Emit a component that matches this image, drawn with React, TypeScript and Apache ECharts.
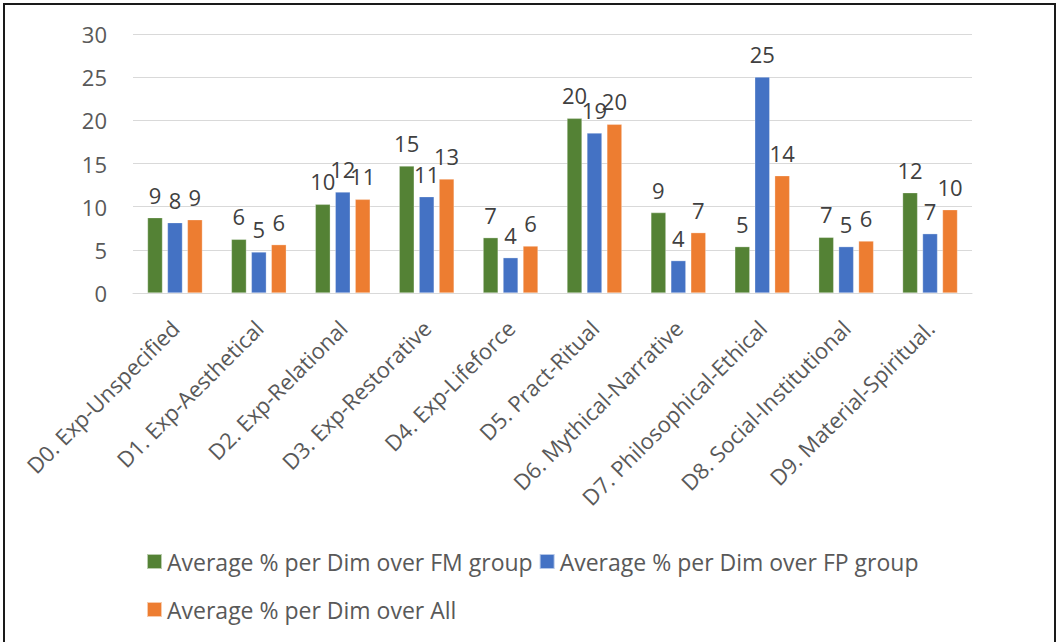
import React, { useEffect, useRef } from "react";
import * as echarts from "echarts";

const categories = [
  "D0. Exp-Unspecified",
  "D1. Exp-Aesthetical",
  "D2. Exp-Relational",
  "D3. Exp-Restorative",
  "D4. Exp-Lifeforce",
  "D5. Pract-Ritual",
  "D6. Mythical-Narrative",
  "D7. Philosophical-Ethical",
  "D8. Social-Institutional",
  "D9. Material-Spiritual.",
];

const fmValues = [8.73, 6.22, 10.27, 14.71, 6.41, 20.23, 9.31, 5.37, 6.45, 11.62];
const fpValues = [8.15, 4.75, 11.7, 11.16, 4.09, 18.53, 3.75, 25.02, 5.37, 6.87];
const allValues = [8.49, 5.6, 10.85, 13.2, 5.44, 19.54, 6.99, 13.59, 6.02, 9.65];
const fmLabels = [9, 6, 10, 15, 7, 20, 9, 5, 7, 12];
const fpLabels = [8, 5, 12, 11, 4, 19, 4, 25, 5, 7];
const allLabels = [9, 6, 11, 13, 6, 20, 7, 14, 6, 10];

const seriesNames = [
  "Average % per Dim over FM group",
  "Average % per Dim over FP group",
  "Average % per Dim over All",
];
const colors = ["#548235", "#4472C4", "#ED7D31"];

const FONT = "'Open Sans', 'Noto Sans', sans-serif";
const FS = 22;

export default function App() {
  const ref = useRef<HTMLDivElement>(null);

  useEffect(() => {
    if (!ref.current) return;
    const chart = echarts.init(ref.current, null, { renderer: "svg" });
    const dataSets = [fmValues, fpValues, allValues];
    const labelSets = [fmLabels, fpLabels, allLabels];
    const legendText = { fontSize: 23, color: "#595959", fontFamily: FONT };
    chart.setOption({
      animation: false,
      backgroundColor: "#ffffff",
      textStyle: { fontFamily: FONT },
      grid: { left: 133, right: 86, top: 34, bottom: 349, containLabel: false },
      graphic: [
        {
          type: "rect",
          shape: { x: 4, y: 4, width: 1051, height: 650 },
          style: { fill: "none", stroke: "#1a1a1a", lineWidth: 2 },
          silent: true,
        },
      ],
      legend: [
        {
          data: [seriesNames[0], seriesNames[1]],
          left: 141,
          top: 545,
          itemWidth: 15,
          itemHeight: 15,
          itemGap: 6,
          icon: "rect",
          textStyle: legendText,
        },
        {
          data: [seriesNames[2]],
          left: 141,
          top: 593,
          itemWidth: 15,
          itemHeight: 15,
          itemGap: 6,
          icon: "rect",
          textStyle: legendText,
        },
      ],
      xAxis: {
        type: "category",
        data: categories,
        axisLine: { show: true, lineStyle: { color: "#d9d9d9", width: 1 } },
        axisTick: { show: false },
        axisLabel: {
          rotate: 45,
          interval: 0,
          fontSize: FS,
          color: "#595959",
          fontFamily: FONT,
          margin: 31,
        },
      },
      yAxis: {
        type: "value",
        min: 0,
        max: 30,
        interval: 5,
        axisLine: { show: false },
        axisTick: { show: false },
        splitLine: { lineStyle: { color: "#d9d9d9", width: 1 } },
        axisLabel: { fontSize: FS, color: "#595959", fontFamily: FONT, margin: 26 },
      },
      series: dataSets.map((d, i) => ({
        name: seriesNames[i],
        type: "bar",
        data: d,
        barWidth: 15,
        barGap: "33%",
        itemStyle: { color: colors[i], borderColor: "rgba(255,255,255,0.6)", borderWidth: 0.5 },
        label: {
          show: true,
          position: "top",
          distance: 12,
          fontSize: FS,
          color: "#404040",
          fontFamily: FONT,
          formatter: (p: any) => String(labelSets[i][p.dataIndex]),
        },
      })),
    });
    return () => chart.dispose();
  }, []);

  return (
    <div
      ref={ref}
      style={{ position: "fixed", left: 0, top: 0, width: 1058, height: 642 }}
    />
  );
}
